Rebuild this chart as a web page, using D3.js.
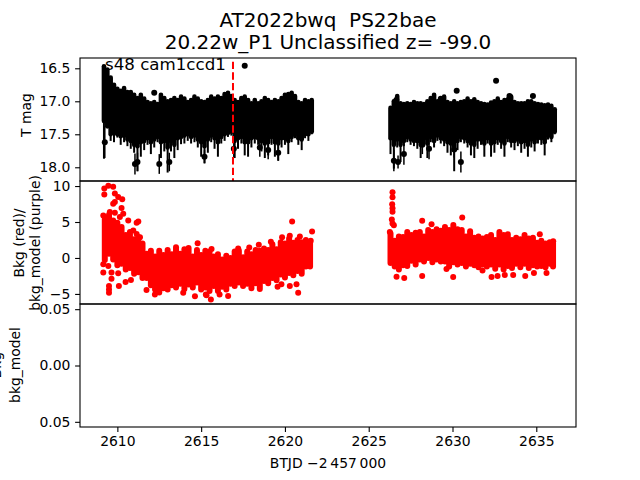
<!DOCTYPE html>
<html><head><meta charset="utf-8">
<script src="https://cdn.jsdelivr.net/npm/d3@7"></script>
<style>html,body{margin:0;padding:0;background:#fff}svg{display:block}text{font-family:"DejaVu Sans";fill:#000;white-space:pre}</style>
</head><body><svg id="c" width="640" height="480"></svg>
<script>
const titleLines = ["AT2022bwq  PS22bae", "20.22w_P1 Unclassified z= -99.0"];
const sectorLabel = "s48 cam1ccd1";
const xTicks = [2610, 2615, 2620, 2625, 2630, 2635];
const magTicks = [16.5, 17.0, 17.5, 18.0];
const bkgTicks = [10, 5, 0, -5];
const diffTicks = [0.05, 0, -0.05];
const eventTime = 2616.9;

const magTimesA = [2609.2,2609.4,2609.6,2609.8,2610,2610.2,2610.4,2610.6,2610.8,2611,2611.2,2611.4,2611.6,2611.8,2612,2612.2,2612.4,2612.6,2612.8,2613,2613.2,2613.4,2613.6,2613.8,2614,2614.2,2614.4,2614.6,2614.8,2615,2615.2,2615.4,2615.6,2615.8,2616,2616.2,2616.4,2616.6,2616.8,2617,2617.2,2617.4,2617.6,2617.8,2618,2618.2,2618.4,2618.6,2618.8,2619,2619.2,2619.4,2619.6,2619.8,2620,2620.2,2620.4,2620.6,2620.8,2621,2621.2,2621.4,2621.6];
const magTopA = [16.47,16.52,16.64,16.75,16.81,16.84,16.80,16.86,16.86,16.90,16.95,16.90,16.96,17.01,17.03,17.01,17.04,16.90,16.95,17.00,16.98,16.95,16.98,16.93,16.96,17.01,16.98,16.93,16.96,17.00,17.01,16.98,16.93,16.96,16.93,16.95,16.89,16.87,16.92,16.98,17.01,16.95,16.93,16.98,17.03,16.98,17.03,17.00,16.95,16.98,17.01,16.98,17.00,16.95,16.90,16.89,16.87,16.92,17.01,17.03,16.98,17.00,16.98];
const magBodyA = [17.30,17.38,17.50,17.48,17.50,17.53,17.52,17.58,17.60,17.66,17.68,17.62,17.60,17.56,17.62,17.58,17.54,17.62,17.60,17.70,17.60,17.66,17.56,17.54,17.52,17.50,17.54,17.52,17.58,17.62,17.68,17.58,17.52,17.56,17.62,17.54,17.50,17.48,17.46,17.60,17.56,17.54,17.62,17.62,17.56,17.54,17.56,17.60,17.64,17.62,17.54,17.62,17.64,17.56,17.56,17.60,17.54,17.50,17.56,17.58,17.50,17.50,17.46];
const magBotA = [17.87,17.38,17.60,17.62,17.55,17.66,17.62,17.68,17.72,17.78,18.06,17.84,17.74,17.66,17.80,17.70,17.62,17.86,17.76,18.08,17.76,17.86,17.74,17.65,17.64,17.60,17.64,17.62,17.70,17.84,17.94,17.78,17.62,17.72,17.84,17.64,17.60,17.54,17.52,17.86,17.72,17.64,17.82,17.84,17.70,17.64,17.66,17.76,17.86,17.82,17.66,17.84,17.90,17.70,17.66,17.80,17.62,17.56,17.66,17.74,17.56,17.60,17.50];
const magTimesB = [2626.3,2626.5,2626.7,2626.9,2627.1,2627.3,2627.5,2627.7,2627.9,2628.1,2628.3,2628.5,2628.7,2628.9,2629.1,2629.3,2629.5,2629.7,2629.9,2630.1,2630.3,2630.5,2630.7,2630.9,2631.1,2631.3,2631.5,2631.7,2631.9,2632.1,2632.3,2632.5,2632.7,2632.9,2633.1,2633.3,2633.5,2633.7,2633.9,2634.1,2634.3,2634.5,2634.7,2634.9,2635.1,2635.3,2635.5,2635.7,2635.9,2636.1];
const magTopB = [17.10,17.00,16.92,17.03,17.04,17.03,17.04,17.01,17.03,17.03,17.04,17.00,16.95,16.90,17.00,16.96,16.93,17.01,17.03,17.00,17.03,17.01,17.00,16.96,17.00,16.97,17.01,17.03,17.04,17.05,17.02,17.00,16.96,17.01,16.98,16.97,16.93,17.01,17.03,17.03,17.03,17.00,17.00,17.03,17.04,17.05,17.06,17.05,17.07,17.12];
const magBodyB = [17.56,17.66,17.58,17.66,17.60,17.54,17.58,17.60,17.60,17.66,17.56,17.64,17.54,17.60,17.52,17.56,17.58,17.62,17.64,17.68,17.60,17.54,17.56,17.60,17.64,17.66,17.58,17.58,17.64,17.56,17.64,17.62,17.56,17.60,17.64,17.54,17.60,17.60,17.58,17.62,17.60,17.66,17.58,17.62,17.56,17.56,17.62,17.52,17.54,17.46];
const magBotB = [17.80,18.02,17.70,17.92,17.68,17.62,17.66,17.68,17.72,17.86,17.66,17.86,17.62,17.70,17.60,17.64,17.68,17.78,17.82,18.06,17.74,17.62,17.64,17.70,17.82,17.86,17.72,17.66,17.84,17.64,17.84,17.78,17.66,17.72,17.84,17.62,17.70,17.74,17.68,17.78,17.72,17.84,17.70,17.76,17.64,17.66,17.82,17.58,17.62,17.50];
const dotTimes = [2617.6,2612.2,2630.25,2632.6,2633.4,2634.8,2629.3,2626.65,2609.25,2612.5,2611.05,2609.3,2616.95,2628.2,2628.6,2630.1,2630.5,2626.5,2627.1,2619.0,2618.5,2611.2,2613.1,2615.2,2619.6,2626.75];
const dotMags = [16.46,16.87,16.84,16.69,16.92,16.92,16.96,16.98,17.62,17.95,17.95,16.80,17.72,17.66,17.72,17.73,17.92,17.90,17.80,17.74,17.70,17.92,17.92,17.84,17.78,17.92];
const dotErrs = [0.03,0.03,0.03,0.03,0.03,0.03,0.03,0.04,0.24,0.15,0.16,0.28,0.14,0.14,0.16,0.12,0.16,0.16,0.16,0.14,0.14,0.14,0.14,0.1,0.12,0.1];

const bkgTimesA = [2609.25,2609.5,2609.75,2610,2610.25,2610.5,2610.75,2611,2611.25,2611.5,2611.75,2612,2612.25,2612.5,2612.75,2613,2613.25,2613.5,2613.75,2614,2614.25,2614.5,2614.75,2615,2615.25,2615.5,2615.75,2616,2616.25,2616.5,2616.75,2617,2617.25,2617.5,2617.75,2618,2618.25,2618.5,2618.75,2619,2619.25,2619.5,2619.75,2620,2620.25,2620.5,2620.75,2621,2621.25,2621.5];
const bkgTopA = [5.4,6.0,5.2,4.9,4.3,3.2,3.6,2.6,2.9,2.0,0.6,1.0,0.2,1.0,0.4,1.1,0.5,1.5,0.6,1.2,1.4,0.2,1.1,0.4,1.0,0.9,0.2,0.5,-0.2,0.3,0.0,0.9,1.0,0.1,0.9,0.5,1.1,1.0,1.3,1.1,1.9,1.2,2.2,2.0,2.7,2.1,2.5,2.2,2.5,2.2];
const bkgBotA = [-0.3,0.6,-0.2,-1.0,-0.8,-1.6,-1.4,-2.2,-2.0,-2.8,-2.8,-3.8,-4.4,-4.8,-4.2,-4.4,-3.8,-4.1,-3.6,-4.3,-3.7,-4.1,-3.4,-4.4,-4.1,-4.6,-3.9,-4.6,-4.0,-4.4,-3.6,-3.9,-3.4,-3.9,-3.6,-4.2,-3.5,-4.3,-3.2,-3.5,-2.8,-3.1,-2.3,-2.7,-2.1,-2.4,-1.8,-2.2,-1.2,-1.2];
const bkgTimesB = [2626.3,2626.55,2626.8,2627.05,2627.3,2627.55,2627.8,2628.05,2628.3,2628.55,2628.8,2629.05,2629.3,2629.55,2629.8,2630.05,2630.3,2630.55,2630.8,2631.05,2631.3,2631.55,2631.8,2632.05,2632.3,2632.55,2632.8,2633.05,2633.3,2633.55,2633.8,2634.05,2634.3,2634.55,2634.8,2635.05,2635.3,2635.55,2635.8,2636.0];
const bkgTopB = [3.4,2.4,3.0,2.9,3.6,3.2,3.5,3.6,3.0,3.9,3.6,4.0,3.8,4.3,3.9,4.6,4.0,3.9,3.0,3.7,2.8,3.0,2.7,2.9,3.2,2.5,3.6,3.2,3.3,2.5,2.8,2.6,3.2,2.7,2.8,2.1,2.4,2.0,2.2,2.0];
const bkgBotB = [-0.7,-1.2,-1.6,-1.0,-1.1,-0.4,-0.9,-0.2,-0.5,0.0,-0.6,-0.2,-0.5,-0.5,-1.2,-0.6,-0.9,-0.7,-1.2,-0.8,-1.0,-1.3,-0.9,-1.2,-0.9,-1.5,-0.9,-1.6,-1.1,-1.4,-0.8,-1.3,-0.8,-1.4,-1.0,-1.2,-1.1,-1.3,-0.8,-1.2];
const bkgDotTimes = [2609.22,2609.46,2609.75,2609.22,2609.85,2610.05,2610.29,2609.75,2609.85,2610.25,2610.35,2610.65,2611.25,2611.15,2609.16,2609.55,2609.85,2610.15,2610.95,2611.15,2611.35,2609.16,2609.16,2609.46,2609.65,2610.05,2609.65,2609.5,2609.5,2609.5,2610.09,2610.49,2610.81,2611.74,2613.93,2614.63,2615.32,2612.24,2614.79,2620.43,2621.62,2620.79,2619.79,2620.29,2619.56,2620.69,2615.58,2616.61,2615.28,2616.1,2615.62,2617.21,2617.87,2618.44,2619.16,2619.83,2620.29,2620.89,2621.54,2626.42,2626.42,2626.4,2626.42,2626.42,2626.38,2626.42,2626.5,2626.26,2630.58,2628.19,2626.66,2627.12,2628.19,2630.04,2632.33,2632.69,2634.34,2629.64,2631.79,2633.12,2633.62,2634.86,2635.61,2628.75,2635.21,2636.01];
const bkgDotVals = [8.81,10.03,9.89,9.65,8.95,8.49,8.16,7.55,7.78,6.94,6.15,5.21,5.07,4.89,5.91,6.38,6.29,5.68,3.81,3.34,2.88,-0.86,-2.03,-1.10,-2.03,-2.13,-2.88,-3.90,-4.84,-4.37,-3.90,-3.34,-3.06,-4.46,-4.84,-5.31,-5.17,-5.07,2.03,5.07,3.67,-4.84,-3.67,-3.9,-4.0,-3.67,-5.77,-5.3,-5.07,-5.07,1.24,1.33,1.47,1.85,2.27,2.88,3.1,2.97,2.4,9.14,8.44,7.46,6.43,6.9,5.35,4.79,4.56,3.62,5.63,5.17,-2.6,-2.78,-2.5,-2.64,-2.64,-2.5,-2.5,-1.52,-1.75,-2.36,-2.36,-2.08,-2.08,4.7,3.3,2.31];

const svg = d3.select("#c");
const left = 80, right = 576, tops = [58, 181, 304], bots = [181, 304, 427];
const x = d3.scaleLinear().domain([2607.77, 2637.37]).range([left, right]);
const yMag = d3.scaleLinear().domain([16.344, 18.208]).range([tops[0], bots[0]]);
const yBkg = d3.scaleLinear().domain([10.7, -6.4]).range([tops[1], bots[1]]);
const yDiff = d3.scaleLinear().domain([0.0546, -0.0546]).range([tops[2], bots[2]]);

const clipRects = [0,1,2].map(i => {
  const id = "clip" + i;
  svg.append("clipPath").attr("id", id).append("rect").attr("x", left).attr("y", tops[i]).attr("width", right - left).attr("height", bots[i] - tops[i]);
  return "url(#" + id + ")";
});

// panel 1: magnitudes
const g1 = svg.append("g").attr("clip-path", clipRects[0]);
function magBars(ts, tp, bd, bt) {
  g1.append("g").selectAll("line").data(ts).join("line")
    .attr("x1", d => x(d)).attr("x2", d => x(d))
    .attr("y1", (d, i) => yMag(tp[i])).attr("y2", (d, i) => yMag(bt[i]))
    .attr("stroke", "#000").attr("stroke-width", 2);
  g1.append("g").selectAll("line").data(ts).join("line")
    .attr("x1", d => x(d)).attr("x2", d => x(d))
    .attr("y1", (d, i) => yMag(tp[i])).attr("y2", (d, i) => yMag(bd[i]))
    .attr("stroke", "#000").attr("stroke-width", 4.6).attr("stroke-linecap", "round");
}
magBars(magTimesA, magTopA, magBodyA, magBotA);
magBars(magTimesB, magTopB, magBodyB, magBotB);
g1.append("g").selectAll("line").data(dotTimes).join("line")
  .attr("x1", d => x(d)).attr("x2", d => x(d))
  .attr("y1", (d, i) => yMag(dotMags[i] - dotErrs[i])).attr("y2", (d, i) => yMag(dotMags[i] + dotErrs[i]))
  .attr("stroke", "#000").attr("stroke-width", 1.5);
g1.append("g").selectAll("circle").data(dotTimes).join("circle")
  .attr("cx", d => x(d)).attr("cy", (d, i) => yMag(dotMags[i])).attr("r", 3).attr("fill", "#000");
g1.append("line").attr("x1", x(eventTime)).attr("x2", x(eventTime))
  .attr("y1", yMag(16.40)).attr("y2", bots[0])
  .attr("stroke", "#f00").attr("stroke-width", 2).attr("stroke-dasharray", "7.4,3.2");
svg.append("text").attr("x", 105).attr("y", 70).attr("font-size", 16.67).text(sectorLabel);

// panel 2: background
const g2 = svg.append("g").attr("clip-path", clipRects[1]);
function bkgBars(ts, tp, bt) {
  g2.append("g").selectAll("line").data(ts).join("line")
    .attr("x1", d => x(d)).attr("x2", d => x(d))
    .attr("y1", (d, i) => yBkg(tp[i])).attr("y2", (d, i) => yBkg(bt[i]))
    .attr("stroke", "#f00").attr("stroke-width", 6).attr("stroke-linecap", "round");
}
bkgBars(bkgTimesA, bkgTopA, bkgBotA);
bkgBars(bkgTimesB, bkgTopB, bkgBotB);
g2.append("g").selectAll("circle").data(bkgDotTimes).join("circle")
  .attr("cx", d => x(d)).attr("cy", (d, i) => yBkg(bkgDotVals[i])).attr("r", 3).attr("fill", "#f00");

// axes
function styleAxis(g) {
  g.selectAll("path.domain").remove();
  g.selectAll("line").attr("stroke", "#000").attr("stroke-width", 1.1);
  g.selectAll("text").attr("font-size", 13.9).attr("fill", "#000").style("font-family", '"DejaVu Sans"');
}
const minusFmt = d => String(d).replace("-", "\u2212");
svg.append("g").attr("transform", `translate(${left},0)`)
  .call(d3.axisLeft(yMag).tickValues(magTicks).tickSize(4.9).tickPadding(4.8).tickFormat(d3.format(".1f"))).call(styleAxis);
svg.append("g").attr("transform", `translate(${left},0)`)
  .call(d3.axisLeft(yBkg).tickValues(bkgTicks).tickSize(4.9).tickPadding(4.8).tickFormat(minusFmt)).call(styleAxis);
svg.append("g").attr("transform", `translate(${left},0)`)
  .call(d3.axisLeft(yDiff).tickValues(diffTicks).tickSize(4.9).tickPadding(4.8).tickFormat(d => Math.abs(d).toFixed(2))).call(styleAxis);
svg.append("g").attr("transform", `translate(0,${bots[2]})`)
  .call(d3.axisBottom(x).tickValues(xTicks).tickSize(4.9).tickPadding(4.2).tickFormat(d3.format("d"))).call(styleAxis);

// spines
tops.forEach((t, i) => {
  svg.append("rect").attr("x", left).attr("y", t).attr("width", right - left).attr("height", bots[i] - t)
    .attr("fill", "none").attr("stroke", "#000").attr("stroke-width", 1.1);
});

// labels
titleLines.forEach((s, i) => {
  svg.append("text").attr("x", 328).attr("y", 27 + i * 22).attr("text-anchor", "middle").attr("font-size", 20).text(s);
});
svg.append("text").attr("x", 328).attr("y", 468).attr("text-anchor", "middle").attr("font-size", 13.9).text("BTJD \u22122\u2009457\u2009000");
function yLabel(s, bx, cy) {
  svg.append("text").attr("transform", `translate(${bx},${cy}) rotate(-90)`).attr("text-anchor", "middle").attr("font-size", 13.9).text(s);
}
yLabel("T mag", 31, 115);
yLabel("Bkg (red)/", 24, 243);
yLabel("bkg_model (purple)", 40, 243);
yLabel("Bkg", 1, 365);
yLabel("bkg_model", 20, 365);
</script></body></html>
